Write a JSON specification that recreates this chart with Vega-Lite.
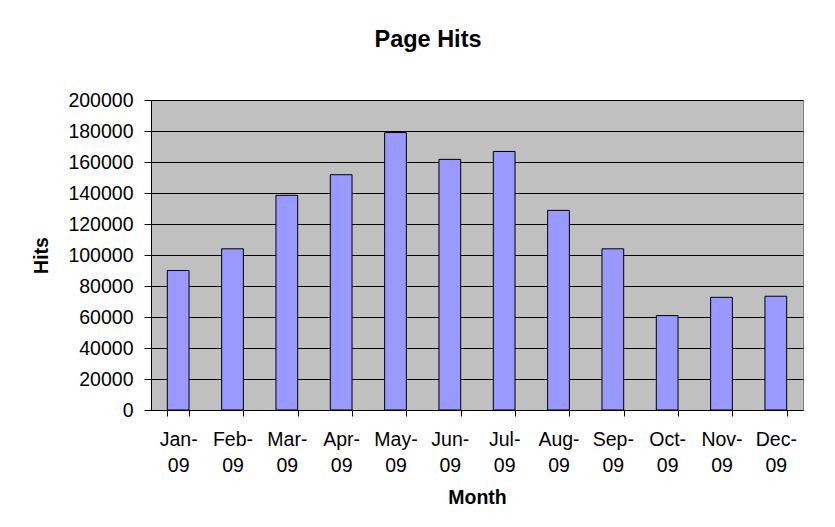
{
  "$schema": "https://vega.github.io/schema/vega-lite/v6.json",
  "autosize": {"type": "none"},
  "padding": {"left": 151, "top": 100, "right": 32, "bottom": 117},
  "width": 652,
  "height": 310,
  "background": "white",
  "title": {
    "text": "Page Hits",
    "font": "Liberation Sans",
    "fontSize": 23.5,
    "fontWeight": "bold",
    "color": "#000000",
    "anchor": "middle",
    "baseline": "alphabetic",
    "dx": -49,
    "offset": 20
  },
  "data": {
    "values": [
      {"month": "Jan-09", "hits": 90000},
      {"month": "Feb-09", "hits": 104000},
      {"month": "Mar-09", "hits": 138500},
      {"month": "Apr-09", "hits": 151800},
      {"month": "May-09", "hits": 179000},
      {"month": "Jun-09", "hits": 161700},
      {"month": "Jul-09", "hits": 166800},
      {"month": "Aug-09", "hits": 128800},
      {"month": "Sep-09", "hits": 104000},
      {"month": "Oct-09", "hits": 60900},
      {"month": "Nov-09", "hits": 72700},
      {"month": "Dec-09", "hits": 73400}
    ]
  },
  "mark": {"type": "bar", "color": "#9999FF", "stroke": "#000000", "strokeWidth": 1},
  "encoding": {
    "x": {
      "field": "month",
      "type": "ordinal",
      "sort": null,
      "scale": {"paddingInner": 0.6, "paddingOuter": 0.3},
      "axis": {
        "title": "Month",
        "labelAngle": 0,
        "labelExpr": "[slice(datum.label, 0, 4), slice(datum.label, 4)]",
        "labelLineHeight": 26,
        "labelBaseline": "top",
        "labelPadding": 14,
        "titlePadding": 14,
        "tickBand": "extent",
        "tickSize": 6,
        "tickColor": "#000000",
        "domainColor": "#000000",
        "grid": false
      }
    },
    "y": {
      "field": "hits",
      "type": "quantitative",
      "scale": {"domain": [0, 200000], "nice": false},
      "axis": {
        "title": "Hits",
        "values": [0, 20000, 40000, 60000, 80000, 100000, 120000, 140000, 160000, 180000, 200000],
        "format": "d",
        "tickSize": 7,
        "labelPadding": 11,
        "titlePadding": 16,
        "grid": true,
        "gridColor": "#000000",
        "gridOpacity": 1,
        "gridWidth": 1,
        "tickColor": "#000000",
        "domainColor": "#000000"
      }
    }
  },
  "config": {
    "view": {"fill": "#C0C0C0", "stroke": "#808080", "strokeWidth": 1},
    "axis": {
      "labelFont": "Liberation Sans",
      "labelFontSize": 19.5,
      "labelColor": "#000000",
      "titleFont": "Liberation Sans",
      "titleFontSize": 19.5,
      "titleFontWeight": "bold",
      "titleColor": "#000000",
      "domainWidth": 1,
      "tickWidth": 1,
      "labelOverlap": false,
      "labelFlush": false,
      "labelBound": false
    }
  }
}
